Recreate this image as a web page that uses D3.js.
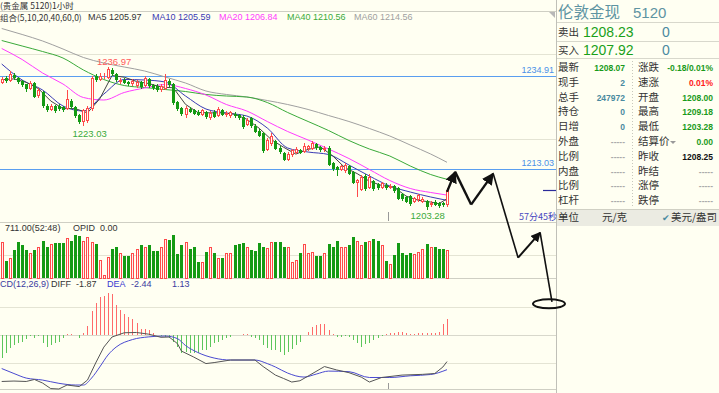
<!DOCTYPE html>
<meta charset="utf-8">
<script src="https://d3js.org/d3.v7.min.js"></script>
<style>
  body { margin: 0; background: #fffff2; }
  text { font-family: "Liberation Sans", Arial, sans-serif; }
  .cjk { font-family: "Noto Sans CJK SC", sans-serif; }
</style>
<div id="chart"></div>
<script>
// ---- candle data (1 hour bars) ----
const opens = [1233.3,1234.4,1233.6,1235.2,1234.4,1233.6,1232.9,1231.8,1233.3,1230.2,
  1231.0,1227.9,1226.9,1227.8,1227.9,1227.6,1227.0,1229.0,1227.5,1225.7,
  1224.0,1224.2,1227.0,1234.8,1234.0,1234.6,1234.5,1236.4,1235.4,1233.4,
  1234.0,1233.5,1232.9,1232.5,1233.4,1232.5,1234.2,1232.8,1232.6,1231.5,
  1231.8,1233.8,1233.0,1228.7,1227.3,1225.7,1227.2,1226.8,1226.5,1225.8,
  1226.4,1225.0,1226.5,1225.5,1226.8,1225.6,1225.4,1226.0,1225.6,1225.3,
  1223.4,1225.0,1223.2,1222.0,1221.5,1217.5,1218.8,1219.5,1218.0,1216.8,
  1215.2,1216.2,1216.8,1217.5,1217.0,1217.6,1217.8,1218.8,1218.2,1217.4,
  1218.0,1214.3,1213.5,1212.7,1212.4,1213.6,1212.2,1209.6,1208.0,1211.4,
  1208.6,1210.2,1209.4,1208.6,1209.3,1208.6,1209.0,1208.5,1207.0,1206.4,
  1206.6,1205.2,1205.6,1205.2,1205.4,1204.4,1205.3,1205.0,1205.0,1204.4];
const closes = [1234.2,1233.6,1235.3,1234.4,1233.4,1232.8,1231.8,1233.2,1230.0,1231.6,
  1227.8,1226.9,1227.9,1226.6,1227.0,1226.8,1229.5,1227.5,1225.4,1224.0,
  1226.8,1227.4,1234.5,1234.0,1235.0,1234.9,1236.5,1235.4,1233.9,1234.0,
  1233.3,1232.9,1233.8,1233.5,1232.3,1234.4,1232.5,1232.0,1231.6,1232.5,
  1234.0,1232.7,1228.5,1227.0,1225.9,1227.4,1226.5,1226.0,1225.8,1226.8,
  1225.2,1226.2,1225.2,1227.0,1225.8,1226.2,1226.3,1225.4,1225.0,1222.9,
  1224.5,1223.0,1221.8,1220.8,1217.2,1219.8,1220.8,1217.8,1217.0,1215.2,
  1216.5,1217.4,1217.6,1216.8,1218.4,1218.3,1219.2,1217.9,1217.4,1218.0,
  1214.0,1212.9,1212.8,1213.6,1214.0,1211.9,1209.8,1210.3,1211.2,1208.2,
  1211.0,1208.3,1208.4,1209.6,1208.5,1209.0,1207.8,1206.0,1205.8,1205.3,
  1204.8,1206.1,1206.8,1205.9,1204.0,1205.0,1204.6,1204.3,1204.4,1208.07];
const highs = [1234.7,1234.8,1236.0,1235.6,1234.7,1233.9,1233.1,1233.6,1233.5,1232.0,
  1231.3,1228.3,1228.4,1228.1,1228.2,1227.9,1231.6,1229.4,1227.8,1226.0,
  1227.2,1227.8,1235.0,1235.3,1235.5,1235.6,1236.97,1236.7,1235.7,1234.5,
  1234.3,1233.8,1234.2,1233.9,1233.7,1234.9,1234.5,1233.1,1232.9,1232.9,
  1235.4,1234.1,1233.3,1229.0,1227.6,1227.8,1227.5,1227.1,1226.8,1227.2,
  1226.7,1226.6,1226.8,1227.6,1227.1,1226.6,1226.7,1226.3,1225.9,1225.6,
  1224.9,1225.3,1223.5,1222.3,1221.8,1220.2,1221.4,1219.8,1218.3,1217.1,
  1216.9,1217.8,1218.2,1217.8,1219.0,1218.7,1219.5,1219.1,1218.5,1218.4,
  1218.3,1214.6,1213.8,1214.0,1214.5,1213.9,1212.5,1210.7,1211.6,1211.7,
  1211.8,1210.5,1209.7,1210.0,1209.6,1209.4,1209.3,1208.8,1207.3,1206.7,
  1206.9,1206.5,1207.2,1206.3,1205.7,1205.4,1205.6,1205.3,1205.3,1208.6];
const lows = [1232.9,1233.2,1233.4,1234.0,1233.1,1232.2,1231.0,1231.5,1229.6,1229.8,
  1227.3,1226.5,1226.6,1226.2,1226.6,1226.4,1226.8,1227.1,1225.0,1223.6,
  1223.03,1223.8,1226.7,1233.5,1233.7,1234.2,1234.2,1235.0,1233.5,1233.0,
  1232.9,1232.5,1232.6,1232.1,1231.9,1232.2,1232.1,1231.6,1231.2,1231.2,
  1231.5,1232.3,1228.1,1226.6,1225.5,1225.0,1226.1,1225.7,1225.4,1225.5,
  1224.8,1224.6,1224.9,1225.2,1225.4,1225.3,1225.1,1225.0,1224.6,1222.5,
  1223.1,1222.6,1221.4,1220.4,1216.8,1217.2,1218.5,1217.4,1216.6,1214.8,
  1214.9,1215.9,1216.5,1216.4,1216.7,1217.3,1217.5,1217.5,1217.0,1217.1,
  1213.6,1212.5,1211.4,1212.4,1212.1,1211.5,1209.4,1206.4,1207.7,1207.8,
  1208.3,1207.9,1208.0,1208.3,1208.1,1208.3,1207.4,1205.6,1205.4,1204.9,
  1204.2,1204.9,1205.3,1204.9,1203.28,1204.1,1204.2,1203.9,1204.0,1204.0];
const volumes = [720,340,400,560,720,660,560,500,560,620,740,620,680,700,700,700,800,740,860,840,
  740,820,720,680,360,60,420,580,620,500,440,440,500,580,660,620,660,540,540,620,
  780,760,860,480,660,720,580,620,320,320,520,620,500,400,400,500,500,660,680,700,
  620,560,540,700,620,600,720,720,720,620,620,320,360,500,680,500,520,440,440,500,
  680,620,740,620,620,660,820,740,660,720,740,780,740,660,340,280,460,700,500,460,
  500,480,520,580,680,620,620,580,580,560];

// ---- moving averages, read at sample bars ----
const maIdx = [0,5,10,15,20,25,30,35,40,45,50,55,60,65,70,75,80,85,90,95,100,105,109];
const ma10 = [1237.71,1233.94,1231.59,1227.82,1226.64,1230.64,1234.06,1233.94,1233.47,1230.17,1227.11,1226.17,
  1225.46,1222.64,1217.93,1216.98,1216.40,1213.92,1211.33,1208.98,1207.56,1206.39,1205.59];
const ma20 = [1241.36,1238.77,1235.59,1233.00,1229.82,1229.23,1231.00,1232.06,1232.88,1231.94,1230.41,1228.17,
  1226.64,1224.17,1221.81,1219.81,1217.69,1215.45,1212.86,1210.27,1208.39,1207.45,1206.84];
const ma40 = [1243.24,1241.95,1240.65,1239.12,1236.30,1234.06,1232.64,1232.17,1231.70,1231.23,1230.53,1230.17,
  1229.94,1228.64,1226.29,1224.17,1222.05,1219.69,1217.69,1216.04,1213.69,1211.68,1210.56];
const ma60 = [1246.07,1244.66,1243.13,1241.24,1239.24,1237.94,1237.00,1236.06,1234.65,1233.23,1231.35,1230.53,
  1229.94,1229.11,1228.17,1227.00,1225.58,1224.17,1222.52,1220.75,1218.63,1216.51,1214.56];
const ma5Idx = [0,3,6,9,12,15,18,21,24,27,30,33,36,39,42,45,48,51,54,57,60,63,66,69,72,75,78,81,84,87,90,93,96,99,102,105,107,109];
const ma5 = [1234.0,1234.2,1233.4,1231.9,1229.0,1227.2,1227.2,1226.2,1229.5,1235.0,1234.6,1233.6,1233.1,1232.3,
  1232.1,1228.2,1226.3,1226.2,1226.2,1225.9,1224.7,1222.6,1219.9,1218.1,1216.5,1217.6,1218.2,1216.1,1213.3,
  1211.9,1210.1,1209.1,1208.7,1206.6,1205.6,1205.2,1204.8,1205.97];

// ---- MACD(12,26,9) ----
const macdHist = [-1.62,-1.27,-0.92,-0.70,-0.56,-0.49,-0.28,-0.07,-0.21,-0.07,-0.56,-0.85,-0.70,-0.56,-0.49,-0.21,0.07,0.07,0.02,-0.21,
  0.14,0.63,1.69,2.25,2.68,2.75,2.96,2.89,2.11,1.76,1.48,1.27,1.13,0.85,0.42,0.42,0.35,0.14,0.02,-0.07,
  -0.14,-0.21,-0.49,-0.85,-1.27,-1.20,-1.27,-1.27,-1.27,-1.06,-1.06,-0.85,-0.56,-0.49,-0.35,-0.21,-0.14,-0.02,-0.02,0.07,
  0.07,-0.14,-0.21,-0.35,-0.70,-0.92,-1.06,-1.06,-1.20,-1.41,-1.20,-0.99,-0.70,-0.49,-0.02,0.21,0.56,0.70,0.77,0.77,
  0.35,0.07,-0.14,-0.14,-0.07,-0.14,-0.35,-0.56,-0.85,-0.63,-0.56,-0.35,-0.21,-0.07,0.07,0.14,0.14,0.21,0.21,0.14,
  0.07,0.07,0.14,0.14,0.14,0.14,0.14,0.21,0.77,1.13];
const diffIdx = [0,3,6,8,10,12,14,16,19,21,23,25,27,30,33,36,39,41,43,44,47,50,52,56,62,64,67,69,71,73,75,79,82,85,88,90,93,98,103,106,108,109];
const diffVals = [-3.27,-3.24,-3.27,-3.13,-3.38,-3.77,-3.80,-3.52,-3.63,-3.17,-1.97,-0.85,-0.14,0.16,0.18,0.06,-0.16,-0.14,
  -0.60,-1.13,-1.55,-2.01,-1.94,-1.76,-1.76,-2.22,-2.82,-3.06,-3.31,-3.22,-2.89,-2.22,-2.46,-2.65,-2.96,-3.31,-2.99,
  -2.82,-2.77,-2.71,-2.25,-1.87];
const deaIdx = [0,3,6,10,14,18,20,22,24,26,28,32,36,40,43,45,48,52,56,62,65,67,70,74,77,80,85,90,95,100,105,109];
const deaVals = [-2.36,-2.71,-3.03,-3.17,-3.40,-3.52,-3.52,-3.03,-2.25,-1.41,-0.85,-0.32,-0.13,-0.07,-0.25,-0.74,-1.23,
  -1.62,-1.76,-1.76,-2.01,-2.25,-2.68,-2.96,-2.75,-2.54,-2.58,-2.99,-2.99,-2.87,-2.78,-2.44];

// ---- labels ----
const maNames = ["MA5 1205.97","MA10 1205.59","MA20 1206.84","MA40 1210.56","MA60 1214.56"];
const refLevels = [1234.91, 1213.03];
const priceGrid = [1240, 1220];
const macdGrid = [2, 0, -2];
const leftLabels = ["最新","现手","总手","持仓","日增","外盘","比例","内盘","比例","杠杆"];
const leftValues = ["1208.07","2","247972","0","0","-----","-----","-----","-----","-----"];
const rightLabels = ["涨跌","速涨","开盘","最高","最低","结算价","昨收","昨结","涨停","跌停"];
const rightValues = ["-0.18/0.01%","0.01%","1208.00","1209.18","1203.28","0.00","1208.25","-----","-----","-----"];
// hand drawn forecast zigzag (bar index, price)
const sketchPts = [[109,1207.6],[111,1212.3],[114.9,1204.6],[120.3,1211.9],[126.4,1192.1],[131.8,1198.0],[134.7,1181.7]];

const W = 719, H = 393;
const up = "#ff4a4a", down = "#149a14", bg = "#fffff2", gridC = "#e4e4d4", lineC = "#cfcfc4";
const maColors = ["#444444","#3a3ab4","#ff3cff","#3aaa3a","#a0a0a0"];

const svg = d3.select("#chart").append("svg").attr("width", W).attr("height", H);
svg.append("rect").attr("width", W).attr("height", H).attr("fill", bg);

const x = d3.scaleLinear().domain([0, 109]).range([1.7, 447]);
const yP = d3.scaleLinear().domain([1200.5, 1247.6]).range([222, 22]);
const yV = d3.scaleLinear().domain([0, 460]).range([278, 255]);
const yM = d3.scaleLinear().domain([-3.8, 3.17]).range([389, 290]);
const cx = i => Math.round(x(i));

function hline(y, x1, x2, color) {
  svg.append("line").attr("x1", x1).attr("x2", x2).attr("y1", Math.round(y) + 0.5).attr("y2", Math.round(y) + 0.5)
    .attr("stroke", color).attr("shape-rendering", "crispEdges");
}

// frames and grid
hline(11, 0, 556, lineC);
priceGrid.forEach(v => hline(yP(v), 0, 556, gridC));
hline(222, 0, 556, lineC);
hline(yV(460), 0, 556, gridC);
hline(278, 0, 556, lineC);
macdGrid.forEach(v => hline(yM(v), 0, 556, v === 0 ? "#d8d8cc" : gridC));
hline(389, 0, 556, lineC);
svg.append("line").attr("x1", 556.5).attr("x2", 556.5).attr("y1", 0).attr("y2", H).attr("stroke", "#c0c0b8");
svg.append("path").attr("d", "M549,12 L555,12 L555,18 Z").attr("fill", "#b8b8b8");

// day separator ticks
[[212, 221], [383, 389]].forEach(r => svg.append("line").attr("x1", cx(94.5) + 0.5).attr("x2", cx(94.5) + 0.5)
  .attr("y1", r[0]).attr("y2", r[1]).attr("stroke", "#999"));

// reference lines
refLevels.forEach(v => {
  hline(yP(v), 0, 556, "#5a9ef0");
  svg.append("text").attr("x", 554).attr("y", yP(v) - 3).attr("text-anchor", "end")
    .attr("font-size", 9).attr("fill", "#4a90e8").text(v.toFixed(2));
});

// moving averages
const pane = svg.append("g");
function maLine(idx, vals, color) {
  const pts = idx.map((d, k) => [d, vals[k]]);
  pane.append("path").datum(pts).attr("fill", "none").attr("stroke", color).attr("stroke-width", 1)
    .attr("d", d3.line().x(d => x(d[0])).y(d => yP(d[1])).curve(d3.curveMonotoneX));
}
maLine(maIdx, ma60, maColors[4]);
maLine(maIdx, ma40, maColors[3]);
maLine(maIdx, ma20, maColors[2]);

// candles
const bars = d3.range(opens.length);
const cg = svg.append("g").attr("shape-rendering", "crispEdges");
bars.forEach(i => {
  const isUp = closes[i] >= opens[i];
  const c = isUp ? up : down;
  const px = cx(i);
  cg.append("line").attr("x1", px + 0.5).attr("x2", px + 0.5)
    .attr("y1", yP(highs[i])).attr("y2", yP(lows[i])).attr("stroke", c);
  const top = Math.round(yP(Math.max(opens[i], closes[i])));
  const h = Math.max(1, Math.round(yP(Math.min(opens[i], closes[i]))) - top);
  if (isUp) {
    cg.append("rect").attr("x", px - 0.5).attr("y", top + 0.5).attr("width", 2).attr("height", Math.max(h - 1, 0))
      .attr("fill", bg).attr("stroke", c);
  } else {
    cg.append("rect").attr("x", px - 1).attr("y", top).attr("width", 3).attr("height", h).attr("fill", c);
  }
});

maLine(maIdx, ma10, maColors[1]);
pane.append("path").datum(ma5Idx.map((d, k) => [d, ma5[k]])).attr("fill", "none").attr("stroke", maColors[0])
  .attr("d", d3.line().x(d => x(d[0])).y(d => yP(d[1])));

// high / low marks
svg.append("text").attr("x", x(26) - 11).attr("y", yP(1236.97) - 2).attr("font-size", 9.5).attr("fill", "#ff5a5a").text("1236.97");
svg.append("text").attr("x", x(20) - 11).attr("y", yP(1223.03) + 11).attr("font-size", 9.5).attr("fill", "#3aaa3a").text("1223.03");
svg.append("text").attr("x", x(104) - 16).attr("y", yP(1203.28) + 9).attr("font-size", 9.5).attr("fill", "#3aaa3a").text("1203.28");

// last price marker and countdown
svg.append("line").attr("x1", 543).attr("x2", 556).attr("y1", Math.round(yP(1208.07)) + 0.5).attr("y2", Math.round(yP(1208.07)) + 0.5)
  .attr("stroke", "#2a2a9a").attr("stroke-width", 1.2);
svg.append("text").attr("class", "cjk").attr("x", 519).attr("y", 220).attr("font-size", 9).attr("fill", "#4646c0").text("57分45秒");

// volume
const vg = svg.append("g").attr("shape-rendering", "crispEdges");
bars.forEach(i => {
  const isUp = closes[i] >= opens[i];
  const px = cx(i), top = Math.round(yV(volumes[i]));
  if (isUp) {
    vg.append("rect").attr("x", px - 0.5).attr("y", top + 0.5).attr("width", 2).attr("height", 278 - top - 0.5)
      .attr("fill", "#fff4f0").attr("stroke", up);
  } else {
    vg.append("rect").attr("x", px - 1).attr("y", top).attr("width", 3).attr("height", 278 - top).attr("fill", down);
  }
});

// MACD histogram and lines
const mg = svg.append("g").attr("shape-rendering", "crispEdges");
bars.forEach(i => {
  mg.append("line").attr("x1", cx(i) + 0.5).attr("x2", cx(i) + 0.5)
    .attr("y1", yM(0)).attr("y2", yM(macdHist[i]))
    .attr("stroke", macdHist[i] >= 0 ? "#ff6a6a" : "#5cc65c");
});
svg.append("path").datum(deaIdx.map((d, k) => [d, deaVals[k]])).attr("fill", "none").attr("stroke", "#4a4ad0")
  .attr("d", d3.line().x(d => x(d[0])).y(d => yM(d[1])).curve(d3.curveMonotoneX));
svg.append("path").datum(diffIdx.map((d, k) => [d, diffVals[k]])).attr("fill", "none").attr("stroke", "#555")
  .attr("d", d3.line().x(d => x(d[0])).y(d => yM(d[1])));

// header texts
const t = (xx, yy, s, col, size, cls) => svg.append("text").attr("class", cls || null).attr("x", xx).attr("y", yy)
  .attr("font-size", size || 9).attr("fill", col).text(s);
t(0, 8.5, "(贵金属  5120)1小时", "#333", 8.5, "cjk");
t(0, 20.5, "组合(5,10,20,40,60,0)", "#333", 8.5, "cjk");
const maX = [88, 152, 219, 287, 354];
maNames.forEach((s, k) => t(maX[k], 20, s, maColors[k] === "#444444" ? "#333" : maColors[k]));
t(5, 231, "711.00(52:48)", "#333");
t(73, 231, "OPID", "#333");
t(100, 231, "0.00", "#333");
t(0, 287, "CD(12,26,9)", "#3a3aa0");
t(51, 287, "DIFF", "#333");
t(76, 287, "-1.87", "#333");
t(107, 287, "DEA", "#3a3ad0");
t(131, 287, "-2.44", "#3a3aa0");
t(172, 287, "1.13", "#3a3aa0");

// forecast sketch
const defs = svg.append("defs");
defs.append("marker").attr("id", "ah").attr("viewBox", "0 0 10 10").attr("refX", 9).attr("refY", 5)
  .attr("markerWidth", 5).attr("markerHeight", 5).attr("orient", "auto")
  .append("path").attr("d", "M0,0 L10,5 L0,10 z").attr("fill", "#111");
const sp = sketchPts.map(d => [x(d[0]), yP(d[1])]);
const seg = (a, b, w, arrow) => svg.append("line").attr("x1", sp[a][0]).attr("y1", sp[a][1]).attr("x2", sp[b][0]).attr("y2", sp[b][1])
  .attr("stroke", "#111").attr("stroke-width", w).attr("marker-end", arrow ? "url(#ah)" : null);
seg(0, 1, 2.4, true);
seg(1, 2, 2.4, false);
seg(2, 3, 2.4, true);
seg(3, 4, 1.6, false);
seg(4, 5, 2, true);
seg(5, 6, 1.6, false);
svg.append("ellipse").attr("cx", sp[6][0] - 3).attr("cy", sp[6][1] + 2).attr("rx", 16).attr("ry", 4.5)
  .attr("fill", "none").attr("stroke", "#111").attr("stroke-width", 2);

// right info panel
const rp = svg.append("g");
rp.append("text").attr("class", "cjk").attr("x", 558).attr("y", 18).attr("font-size", 15.5).attr("fill", "#5e94a2").text("伦敦金现");
rp.append("text").attr("x", 633).attr("y", 18).attr("font-size", 15).attr("fill", "#5e94a2").text("5120");
[22, 41, 58].forEach(v => rp.append("line").attr("x1", 557).attr("x2", W).attr("y1", v + 0.5).attr("y2", v + 0.5).attr("stroke", "#d8d8cc"));
[["卖出", "1208.23", 36], ["买入", "1207.92", 54]].forEach(r => {
  rp.append("text").attr("class", "cjk").attr("x", 558).attr("y", r[2]).attr("font-size", 10.5).attr("fill", "#333").text(r[0]);
  rp.append("text").attr("x", 583).attr("y", r[2] + 1).attr("font-size", 14).attr("fill", "#1aa01a").text(r[1]);
  rp.append("text").attr("x", 662).attr("y", r[2] + 1).attr("font-size", 14).attr("fill", "#4a8aa0").text("0");
});
const rowY = k => 71 + k * 14.8;
const leftCol = ["#1a9a1a", "#4a8aa0", "#4a8aa0", "#4a8aa0", "#4a8aa0"];
const rightCol = ["#1a9a1a", "#ff2020", "#1a9a1a", "#1a9a1a", "#1a9a1a", "#1a9a1a", "#111"];
leftLabels.forEach((s, k) => {
  rp.append("text").attr("class", "cjk").attr("x", 558).attr("y", rowY(k)).attr("font-size", 10.5).attr("fill", "#333").text(s);
  rp.append("text").attr("x", 625).attr("y", rowY(k)).attr("text-anchor", "end").attr("font-size", 8.5).attr("font-weight", "bold")
    .attr("fill", leftCol[k] || "#aaa").text(leftValues[k]);
});
rightLabels.forEach((s, k) => {
  rp.append("text").attr("class", "cjk").attr("x", 638).attr("y", rowY(k)).attr("font-size", 10.5).attr("fill", "#333").text(s);
  rp.append("text").attr("x", 713).attr("y", rowY(k)).attr("text-anchor", "end").attr("font-size", 8.5).attr("font-weight", "bold")
    .attr("fill", rightCol[k] || "#aaa").text(rightValues[k]);
});
rp.append("path").attr("d", `M670,${rowY(5) - 4} L676,${rowY(5) - 4} L673,${rowY(5) - 1} Z`).attr("fill", "#999");
rp.append("line").attr("x1", 632.5).attr("x2", 632.5).attr("y1", 61).attr("y2", 207).attr("stroke", "#c8c8bc").attr("stroke-dasharray", "1,2");
rp.append("rect").attr("x", 557).attr("y", 209).attr("width", W - 557).attr("height", 17).attr("fill", "#ebebe2");
rp.append("line").attr("x1", 557).attr("x2", W).attr("y1", 209.5).attr("y2", 209.5).attr("stroke", "#d0d0c4");
rp.append("text").attr("class", "cjk").attr("x", 558).attr("y", 221).attr("font-size", 10.5).attr("fill", "#333").text("单位");
rp.append("text").attr("class", "cjk").attr("x", 602).attr("y", 221).attr("font-size", 10.5).attr("fill", "#333").text("元/克");
rp.append("text").attr("x", 662).attr("y", 221).attr("font-size", 9).attr("fill", "#4a8aa0").text("✔");
rp.append("text").attr("class", "cjk").attr("x", 671).attr("y", 221).attr("font-size", 10.5).attr("fill", "#333").text("美元/盎司");
</script>
